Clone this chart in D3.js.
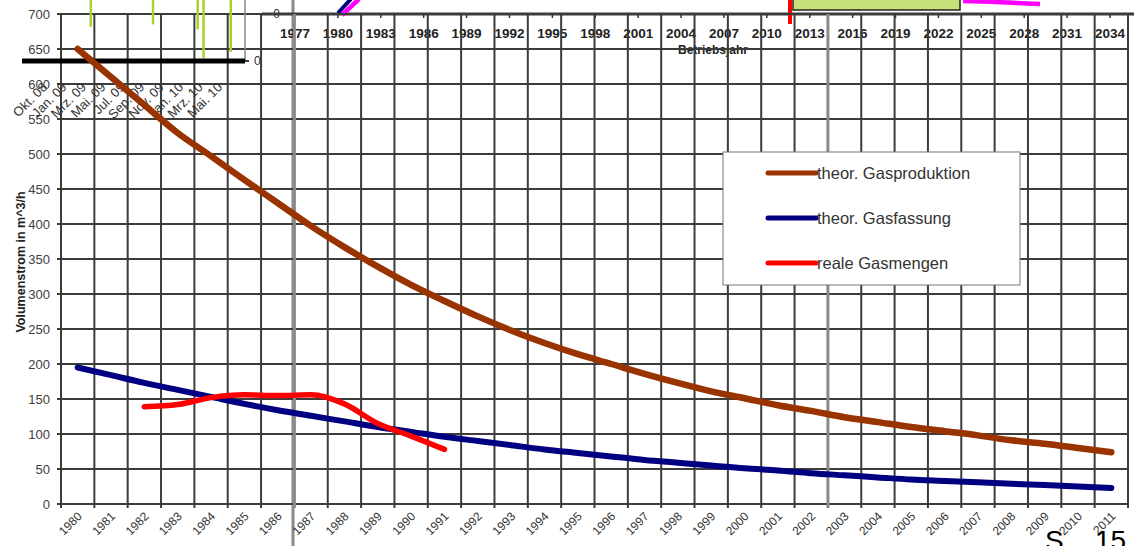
<!DOCTYPE html>
<html>
<head>
<meta charset="utf-8">
<script src="https://cdn.jsdelivr.net/npm/d3@7"></script>
<style>
  html, body { margin: 0; padding: 0; background: #fff; }
  svg { display: block; font-family: "Liberation Sans", Arial, sans-serif; }
</style>
</head>
<body>
<svg id="chart" width="1134" height="546"></svg>
<script>
// ---- main chart data ----
const years = ["1980","1981","1982","1983","1984","1985","1986","1987","1988","1989",
  "1990","1991","1992","1993","1994","1995","1996","1997","1998","1999",
  "2000","2001","2002","2003","2004","2005","2006","2007","2008","2009","2010","2011"];
const gasProduktion = [650, 610, 570, 530, 497, 463, 430, 397, 367, 339, 313, 290, 268, 248, 230, 214,
  200, 186, 173, 161, 151, 141, 133, 124, 117, 110, 104, 98, 91, 86, 80, 74];
const gasFassung = [195, 184, 173, 163, 153, 143, 134, 126, 118, 110, 103, 96, 90, 84, 78, 73,
  68, 63, 59, 55, 51, 48, 44, 41, 38, 35, 33, 31, 29, 27, 25, 23];
const realeYears = ["1982","1983","1984","1985","1986","1987","1988","1989","1990","1991"];
const realeGasmengen = [139, 142, 152, 156, 155, 156, 143, 115, 97, 78];
const yTicks = [0, 50, 100, 150, 200, 250, 300, 350, 400, 450, 500, 550, 600, 650, 700];

const seriesNames = ["theor. Gasproduktion", "theor. Gasfassung", "reale Gasmengen"];
const seriesColors = ["#993300", "#000080", "#ff0000"];

// ---- small operating-year chart along the top ----
const topYears = [1977, 1980, 1983, 1986, 1989, 1992, 1995, 1998, 2001, 2004, 2007, 2010,
  2013, 2016, 2019, 2022, 2025, 2028, 2031, 2034];

// ---- monthly inset (top left) ----
const months = ["Okt. 08","Jan. 09","Mrz. 09","Mai. 09","Jul. 09","Sep. 09","Nov. 09","Jan. 10","Mrz. 10","Mai. 10"];
const monthBarIdx = [2.2, 5.4, 7.7, 8.0, 9.4];
const monthBarVal = [0.56, 0.6, 0.52, 0.05, 0.15];

const svg = d3.select("#chart");

// scales
const x = d3.scaleBand().domain(years).range([61, 1128]).padding(0);
const cx = d => x(d) + x.bandwidth() / 2;
const y = d3.scaleLinear().domain([0, 700]).range([504, 14]);
const xTop = d3.scaleLinear().domain([1977, 2034]).range([295, 1110]);
const xMonth = d3.scaleLinear().domain([0, 9]).range([48, 223]);
const yMonth = d3.scaleLinear().domain([0, 1]).range([61, 0]);

// ===== top chart (operating years) =====
const topG = svg.append("g");
topG.append("line").attr("x1", 293).attr("x2", 293).attr("y1", 0).attr("y2", 546)
  .attr("stroke", "#8a8a8a").attr("stroke-width", 3);
topG.append("line").attr("x1", 262).attr("x2", 1134).attr("y1", 14).attr("y2", 14)
  .attr("stroke", "#3a3a3a").attr("stroke-width", 3);
topG.append("line").attr("x1", 285).attr("x2", 293).attr("y1", 14).attr("y2", 14)
  .attr("stroke", "#3a3a3a").attr("stroke-width", 2);
topG.append("text").attr("x", 280).attr("y", 14).attr("dy", "0.35em")
  .attr("text-anchor", "end").attr("font-size", 12).attr("fill", "#333").text("0");
topG.selectAll("line.tt").data(topYears).join("line").attr("class", "tt")
  .attr("x1", d => xTop(d)).attr("x2", d => xTop(d)).attr("y1", 14).attr("y2", 18)
  .attr("stroke", "#333").attr("stroke-width", 1.5);
topG.selectAll("text.tl").data(topYears).join("text").attr("class", "tl")
  .attr("x", d => xTop(d)).attr("y", 38).attr("text-anchor", "middle")
  .attr("font-size", 13.5).attr("font-weight", "bold").attr("fill", "#222").text(d => d);
topG.append("text").attr("x", 713).attr("y", 54).attr("text-anchor", "middle")
  .attr("font-size", 12).attr("font-weight", "bold").attr("fill", "#222").text("Betriebsjahr");
// series fragments of the top chart
topG.append("line").attr("x1", 338).attr("y1", 13).attr("x2", 351).attr("y2", -1)
  .attr("stroke", "#000080").attr("stroke-width", 4);
topG.append("line").attr("x1", 342).attr("y1", 15).attr("x2", 359).attr("y2", -1)
  .attr("stroke", "#ff00ff").attr("stroke-width", 4.5);
topG.append("rect").attr("x", 793).attr("y", -2).attr("width", 167).attr("height", 12)
  .attr("fill", "#c8e07a").attr("stroke", "#222").attr("stroke-width", 1.5);
topG.append("line").attr("x1", 790).attr("x2", 790).attr("y1", 0).attr("y2", 24)
  .attr("stroke", "#ff0000").attr("stroke-width", 4);
topG.append("path").attr("d", "M963,1 Q1000,2 1040,4")
  .attr("fill", "none").attr("stroke", "#ff00ff").attr("stroke-width", 4.5);

// ===== main chart grid =====
const gridG = svg.append("g");
gridG.selectAll("line.h").data(yTicks).join("line").attr("class", "h")
  .attr("x1", 57).attr("x2", 1128).attr("y1", d => y(d)).attr("y2", d => y(d))
  .attr("stroke", "#3c3c3c").attr("stroke-width", 2);
const bounds = years.map(d => x(d)).concat([x.range()[1]]);
gridG.selectAll("line.v").data(bounds).join("line").attr("class", "v")
  .attr("x1", d => d).attr("x2", d => d).attr("y1", 14).attr("y2", 508)
  .attr("stroke", (d, i) => (i === 7 || i === 23) ? "#8a8a8a" : "#3c3c3c")
  .attr("stroke-width", (d, i) => (i === 7 || i === 23) ? 3 : 2);

// y axis labels
svg.selectAll("text.yl").data(yTicks).join("text").attr("class", "yl")
  .attr("x", 50).attr("y", d => y(d)).attr("dy", "0.35em").attr("text-anchor", "end")
  .attr("font-size", 13).attr("fill", "#404040").text(d => d);
svg.append("text").attr("transform", "translate(25,262) rotate(-90)")
  .attr("text-anchor", "middle").attr("font-size", 12.5).attr("font-weight", "bold")
  .attr("fill", "#222").text("Volumenstrom in m^3/h");

// x axis labels
svg.selectAll("text.xl").data(years).join("text").attr("class", "xl")
  .attr("transform", d => `translate(${cx(d) + 5},${517}) rotate(-45)`)
  .attr("text-anchor", "end").attr("font-size", 12).attr("fill", "#333").text(d => d);

// ===== monthly inset =====
const inset = svg.append("g");
inset.append("line").attr("x1", 245).attr("x2", 245).attr("y1", 0).attr("y2", 61)
  .attr("stroke", "#8a8a8a").attr("stroke-width", 1.5);
inset.selectAll("line.mb").data(monthBarIdx).join("line").attr("class", "mb")
  .attr("x1", d => xMonth(d)).attr("x2", d => xMonth(d)).attr("y1", 0)
  .attr("y2", (d, i) => yMonth(monthBarVal[i]))
  .attr("stroke", "#a8d42a").attr("stroke-width", 2.5);
inset.append("line").attr("x1", 22).attr("x2", 245).attr("y1", 61).attr("y2", 61)
  .attr("stroke", "#000").attr("stroke-width", 5);
inset.append("line").attr("x1", 245).attr("x2", 249).attr("y1", 61).attr("y2", 61)
  .attr("stroke", "#000").attr("stroke-width", 1.5);
inset.append("text").attr("x", 254).attr("y", 61).attr("dy", "0.35em")
  .attr("font-size", 12).attr("fill", "#333").text("0");
inset.selectAll("text.ml").data(months).join("text").attr("class", "ml")
  .attr("transform", (d, i) => `translate(${xMonth(i)},${88}) rotate(-45)`)
  .attr("text-anchor", "end").attr("font-size", 13).attr("fill", "#333").text(d => d);

// ===== legend =====
const lg = svg.append("g");
lg.append("rect").attr("x", 723).attr("y", 152).attr("width", 297).attr("height", 133)
  .attr("fill", "#fff").attr("stroke", "#777").attr("stroke-width", 1);
seriesNames.forEach((name, i) => {
  const ly = 173 + i * 45;
  lg.append("line").attr("x1", 768).attr("x2", 816).attr("y1", ly).attr("y2", ly)
    .attr("stroke", seriesColors[i]).attr("stroke-width", 5).attr("stroke-linecap", "round");
  lg.append("text").attr("x", 817).attr("y", ly).attr("dy", "0.36em")
    .attr("font-size", 16.5).attr("fill", "#333").text(name);
});

// ===== data lines =====
const line = d3.line().x(d => cx(d[0])).y(d => y(d[1])).curve(d3.curveMonotoneX);
const lineData = [
  { vals: years.map((d, i) => [d, gasFassung[i]]), color: seriesColors[1], w: 6 },
  { vals: years.map((d, i) => [d, gasProduktion[i]]), color: seriesColors[0], w: 6.5 },
  { vals: realeYears.map((d, i) => [d, realeGasmengen[i]]), color: seriesColors[2], w: 5.5 }
];
svg.append("g").selectAll("path").data(lineData).join("path")
  .attr("d", d => line(d.vals)).attr("fill", "none")
  .attr("stroke", d => d.color).attr("stroke-width", d => d.w)
  .attr("stroke-linecap", "round").attr("stroke-linejoin", "round");

// page marker
svg.append("text").attr("x", 1045).attr("y", 550).attr("font-size", 28).attr("fill", "#000").text("S");
svg.append("text").attr("x", 1095).attr("y", 550).attr("font-size", 28).attr("fill", "#000").text("15");
</script>
</body>
</html>
